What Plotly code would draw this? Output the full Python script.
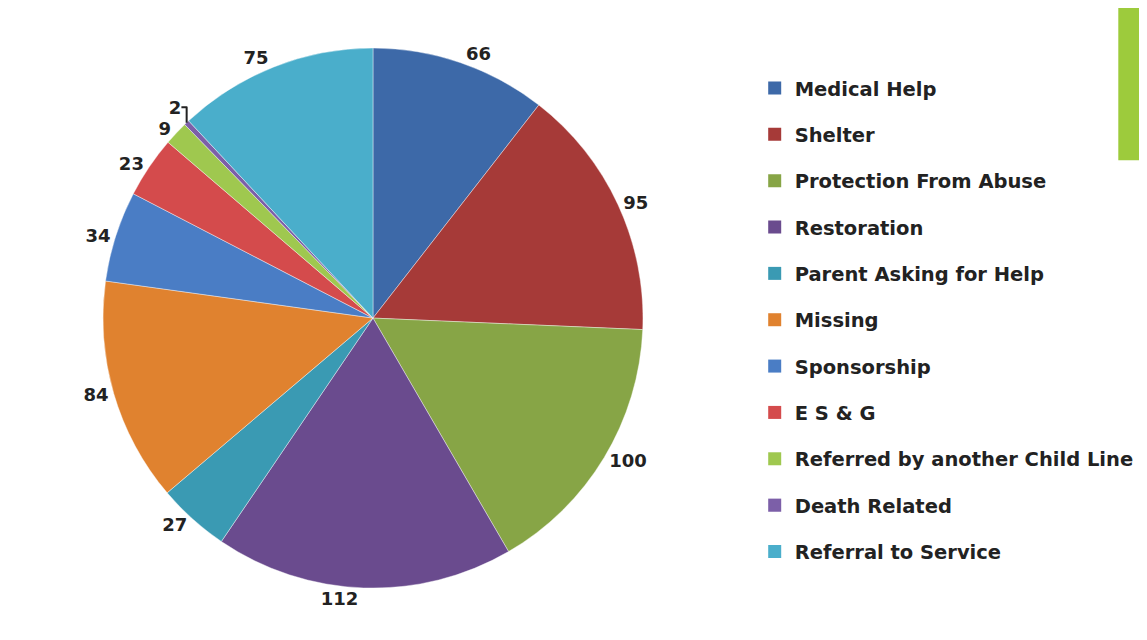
import plotly.graph_objects as go

categories = ["Medical Help", "Shelter", "Protection From Abuse", "Restoration",
              "Parent Asking for Help", "Missing", "Sponsorship", "E S & G",
              "Referred by another Child Line", "Death Related", "Referral to Service"]
values = [66, 95, 100, 112, 27, 84, 34, 23, 9, 2, 75]
colors = ["#3d69a8", "#a63a38", "#87a546", "#6a4b8e", "#3a9ab3", "#e0822f",
          "#4a7dc5", "#d44b4c", "#9fc84f", "#7c5fa8", "#4aaecb"]

fig = go.Figure()
fig.add_trace(go.Pie(
    labels=categories, values=values, sort=False, direction="clockwise", rotation=0,
    marker=dict(colors=colors, line=dict(color="rgba(255,255,255,0.5)", width=0.8)),
    textposition="outside", texttemplate="%{value}", textinfo="value",
    textfont=dict(family="DejaVu Sans", size=18, color="#222222", weight="bold"),
    showlegend=False, hoverinfo="label+value",
    domain=dict(x=[0.0828, 0.5536], y=[0.0935, 0.9375]),
))

# legend entries (no data coordinates, only legend swatches)
for i, (c, col) in enumerate(zip(categories, colors)):
    fig.add_trace(go.Scatter(
        x=[None], y=[None], mode="markers", name=c, legendgroup=f"g{i}",
        marker=dict(symbol="square", size=13, color=col),
        hoverinfo="skip",
    ))

fig.update_layout(
    width=1147, height=640,
    margin=dict(l=0, r=0, t=0, b=0),
    paper_bgcolor="white", plot_bgcolor="white",
    xaxis=dict(visible=False), yaxis=dict(visible=False),
    legend=dict(x=0.651, y=0.905, xanchor="left", yanchor="top",
                font=dict(family="DejaVu Sans", size=19.5, color="#222222", weight="bold"),
                tracegroupgap=18, itemwidth=30, traceorder="grouped",
                bgcolor="rgba(0,0,0,0)"),
    shapes=[dict(type="rect", xref="paper", yref="paper", x0=0.968, x1=1.0,
                 y0=0.762, y1=1.0, fillcolor="#9dcb3c", line=dict(width=0), layer="below")],
)

fig.write_html("out.html")
